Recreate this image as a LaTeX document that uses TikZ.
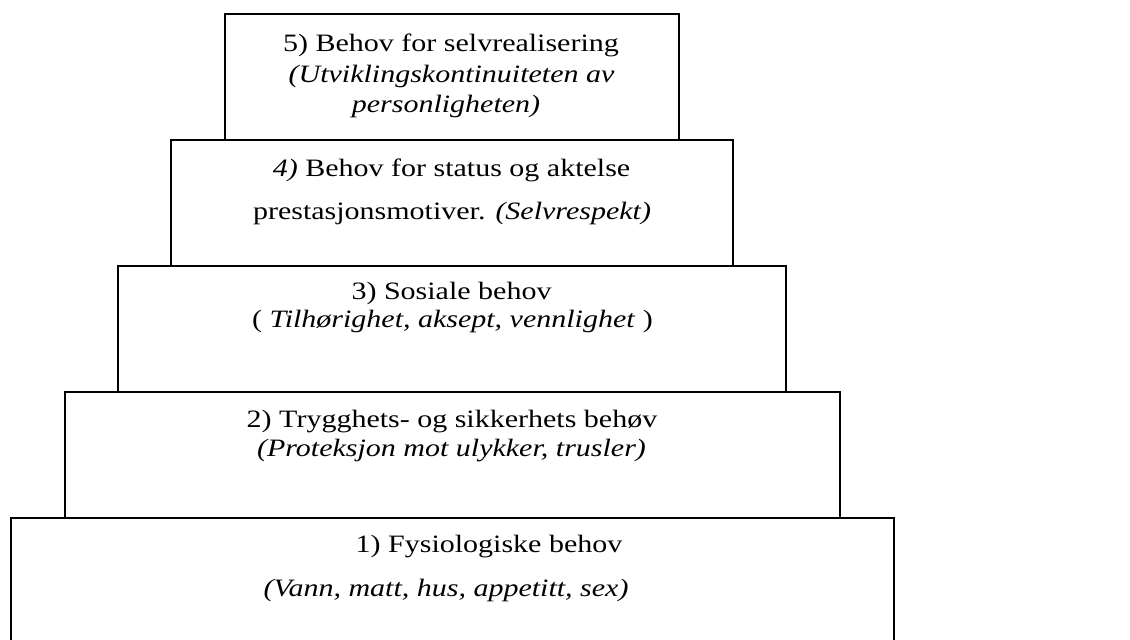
\documentclass[tikz,border=0pt]{standalone}
\usepackage{fontspec}
\setmainfont{Liberation Serif}[FakeStretch=1.2]
\tikzset{
  boxline/.style={draw=black, line width=1pt},
  txt/.style={anchor=base, inner sep=0pt, font=\fontsize{12.5}{14.5}\selectfont},
}
\begin{document}
\begin{tikzpicture}[x=0.5pt,y=-0.5pt]
\useasboundingbox (0,0) rectangle (1130,639);
\clip (0,0) rectangle (1130,639);
% boxes
\draw[boxline] (225,14) rectangle (679,139.5);
\draw[boxline] (171,139.5) rectangle (733,266);
\draw[boxline] (118,266) rectangle (786,391.7);
\draw[boxline] (64.5,391.7) rectangle (840,517.7);
\draw[boxline] (10.7,517.7) rectangle (894,680);
% box 5
\node[txt] (t5a) at (451,51.5) {5) Behov for selvrealisering};
\node[txt] (t5b) at (451.5,82) {\itshape (Utviklingskontinuiteten av};
\node[txt] (t5c) at (446,112.5) {\itshape personligheten)};
% box 4
\node[txt] (t4a) at (451.5,176) {\textit{4)} Behov for status og aktelse};
\node[txt] (t4b) at (452,219) {prestasjonsmotiver. \textit{(Selvrespekt)}};
% box 3
\node[txt] (t3a) at (451.5,299) {3) Sosiale behov};
\node[txt] (t3b) at (452.5,327) {( \textit{Tilhørighet, aksept, vennlighet} )};
% box 2
\node[txt] (t2a) at (452,427) {2) Trygghets- og sikkerhets behøv};
\node[txt] (t2b) at (451.5,456) {\itshape (Proteksjon mot ulykker, trusler)};
% box 1
\node[txt] (t1a) at (489,552) {1) Fysiologiske behov};
\node[txt] (t1b) at (446,596) {\itshape (Vann, matt, hus, appetitt, sex)};
\end{tikzpicture}
\end{document}
